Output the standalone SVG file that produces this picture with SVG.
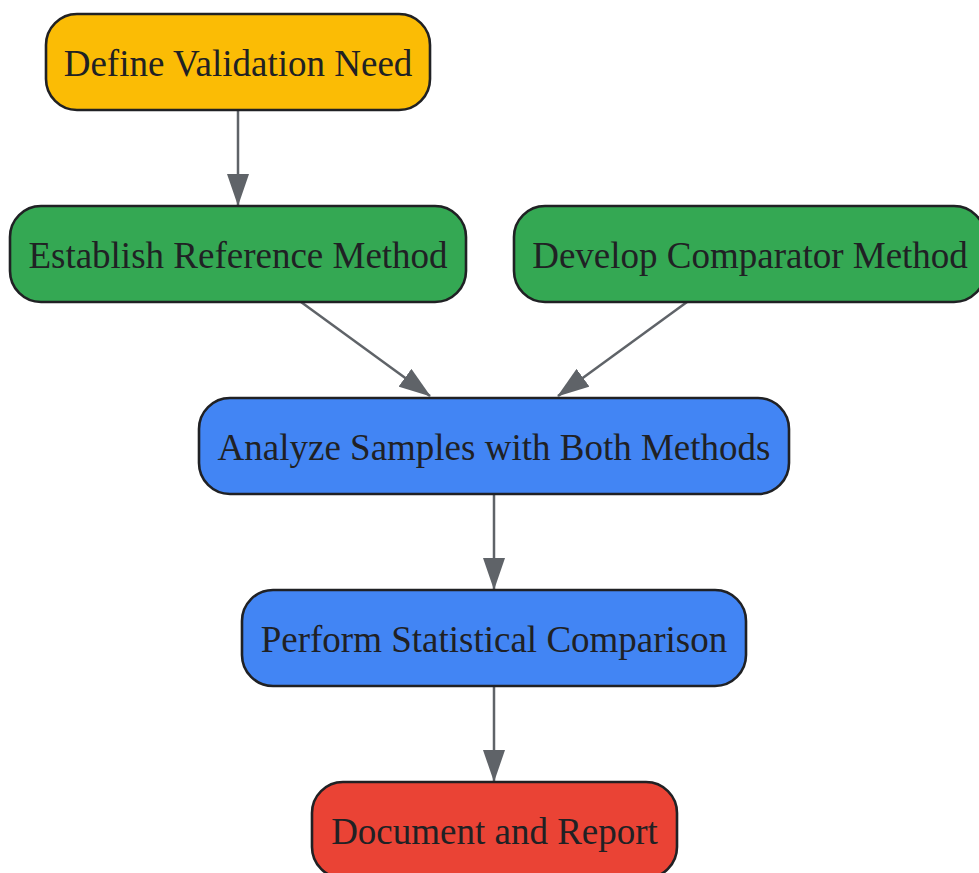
<svg xmlns="http://www.w3.org/2000/svg" width="979" height="873" viewBox="0 0 979 873">
<style>
.n{stroke:#202124;stroke-width:2.6}
.t{font-family:"Liberation Serif","Times New Roman",serif;font-size:37px;fill:#202124;text-anchor:middle;dominant-baseline:central}
.e{stroke:#5f6368;stroke-width:2.5;fill:none;marker-end:url(#ah)}
</style>
<defs>
<marker id="ah" viewBox="0 0 32 22" refX="31" refY="11" markerWidth="32" markerHeight="22" markerUnits="userSpaceOnUse" orient="auto">
<path d="M0,0 L32,11 L0,22 Z" fill="#5f6368"/>
</marker>
</defs>
<rect width="979" height="873" fill="#fff"/>
<g id="edges">
<line class="e" x1="238" y1="110" x2="238" y2="205"/>
<line class="e" x1="301" y1="302" x2="430" y2="396"/>
<line class="e" x1="687" y1="302" x2="558" y2="396"/>
<line class="e" x1="494" y1="494" x2="494" y2="589"/>
<line class="e" x1="494" y1="686" x2="494" y2="781"/>
</g>
<g id="define"><rect class="n" x="46" y="14" width="384" height="96" rx="31" fill="#fbbc05"/><text class="t" x="238" y="63">Define Validation Need</text></g>
<g id="establish"><rect class="n" x="10" y="206" width="456" height="96" rx="31" fill="#34a853"/><text class="t" x="238" y="255">Establish Reference Method</text></g>
<g id="develop"><rect class="n" x="514" y="206" width="471" height="96" rx="31" fill="#34a853"/><text class="t" x="750" y="255">Develop Comparator Method</text></g>
<g id="analyze"><rect class="n" x="199" y="398" width="590" height="96" rx="31" fill="#4285f4"/><text class="t" x="494" y="447">Analyze Samples with Both Methods</text></g>
<g id="perform"><rect class="n" x="242" y="590" width="504" height="96" rx="31" fill="#4285f4"/><text class="t" x="494" y="639">Perform Statistical Comparison</text></g>
<g id="document"><rect class="n" x="312" y="782" width="365" height="96" rx="31" fill="#ea4335"/><text class="t" x="494.5" y="831">Document and Report</text></g>
</svg>
